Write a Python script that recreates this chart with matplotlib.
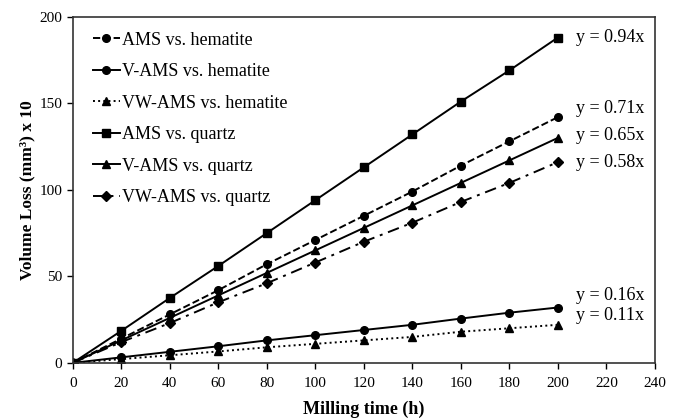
import matplotlib
matplotlib.use("Agg")
import matplotlib.pyplot as plt

# --[data]---------------------------------------------------------------------
hours = [0, 20, 40, 60, 80, 100, 120, 140, 160, 180, 200]

ams_hematite = [0, 14, 28, 42, 57, 71, 85, 99, 114, 128, 142]
v_ams_hematite = [0, 3.2, 6.4, 9.6, 13, 16, 19, 22, 25.6, 29, 32]
vw_ams_hematite = [0, 2.2, 4.4, 6.6, 9, 11, 13, 15, 18, 20, 22]
ams_quartz = [0, 18.5, 37.5, 56, 75, 94, 113, 132, 151, 169, 188]
v_ams_quartz = [0, 13, 26, 39, 52, 65, 78, 91, 104, 117, 130]
vw_ams_quartz = [0, 12, 23, 35, 46, 58, 70, 81, 93, 104, 116]

series_labels = ["AMS vs. hematite", "V-AMS vs. hematite", "VW-AMS vs. hematite",
                 "AMS vs. quartz", "V-AMS vs. quartz", "VW-AMS vs. quartz"]
fit_labels = ["y = 0.71x", "y = 0.16x", "y = 0.11x", "y = 0.94x", "y = 0.65x", "y = 0.58x"]

# --[plot]---------------------------------------------------------------------
plt.rcParams['font.family'] = ['Liberation Serif', 'DejaVu Serif']

fig = plt.figure(figsize=(6.8, 4.2), dpi=100)
ax = fig.add_axes([0.107, 0.136, 0.856, 0.824])

all_series = [ams_hematite, v_ams_hematite, vw_ams_hematite,
              ams_quartz, v_ams_quartz, vw_ams_quartz]
styles = [('--', 'o'), ('-', 'o'), (':', '^'), ('-', 's'), ('-', '^'), ((0, (6, 3, 1.5, 3)), 'D')]
text_dy = [6, 9, 7, 0, 1.5, 0]  # small vertical nudges of the fit labels (points)

for values, label, fit, (ls, mk), dy in zip(all_series, series_labels, fit_labels, styles, text_dy):
    ms = 5 if mk == 'D' else 5.5
    ax.plot(hours, values, color='black', linestyle=ls, marker=mk, markersize=ms,
            linewidth=1.4, label=label)
    ax.annotate(fit, xy=(hours[-1], values[-1]), xytext=(13, dy), textcoords='offset points',
                va='center', ha='left', fontsize=13)

ax.set_xlim(0, 240)
ax.set_ylim(0, 200)
ax.set_xticks(range(0, 241, 20))
ax.set_yticks(range(0, 201, 50))
ax.tick_params(direction='out', labelsize=11, length=4, width=1)
ax.tick_params(axis='x', pad=6)
for s in ax.spines.values():
    s.set_linewidth(1.2)
    s.set_color('#333333')

ax.set_xlabel('Milling time (h)', fontsize=13, fontweight='bold', labelpad=8)
ax.set_ylabel('Volume Loss (mm³) x 10', fontsize=12.5, fontweight='bold', labelpad=3)

ax.legend(loc='upper left', bbox_to_anchor=(0, 1.014), frameon=False, fontsize=13,
          handlelength=1.5, handletextpad=0.1, labelspacing=0.8, borderaxespad=0.7)

fig.savefig('out.png', dpi=100)
